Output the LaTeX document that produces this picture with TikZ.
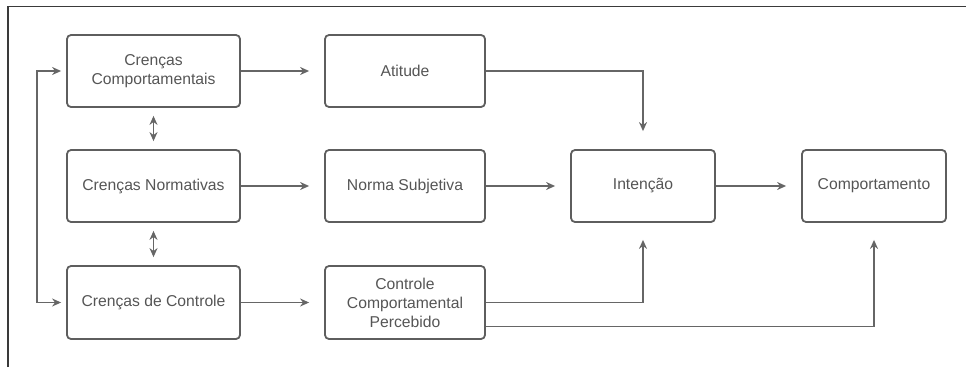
\documentclass[tikz,border=0pt]{standalone}
\usepackage{fontspec}
\setmainfont{Liberation Sans}
\usepackage{xcolor}
\usetikzlibrary{arrows.meta}
\definecolor{boxgray}{HTML}{5E5E5E}
\definecolor{textgray}{HTML}{555555}
\definecolor{linegray}{HTML}{666666}
\definecolor{framegray}{HTML}{3A3A3A}

\begin{document}
\begin{tikzpicture}[x=1pt,y=-1pt,
        bloco/.style={draw=boxgray, line width=1.8pt, rounded corners=4pt, align=center,
            text=textgray, font=\fontsize{15.7}{19}\selectfont, inner sep=0pt},
        largo/.style={bloco, minimum width=173pt},
        medio/.style={bloco, minimum width=160pt},
        curto/.style={bloco, minimum width=144pt},
        ponta/.tip={Stealth[length=9pt, width=8pt]},
        seta/.style={-ponta, draw=linegray, line width=1.3pt, shorten >=15pt},
        dupla/.style={ponta-ponta, draw=linegray, line width=1.3pt, shorten >=8pt, shorten <=8pt}]
        \useasboundingbox (0, 0) rectangle (966, 367);
        \draw[framegray, line width=1.4pt] (8, 367) -- (8, 6.5) -- (966, 6.5);

        \node[largo, minimum height=72pt] (cc) at (153.5, 71) {Crenças\\Comportamentais};
        \node[largo, minimum height=72pt] (cn) at (153.5, 186) {Crenças Normativas};
        \node[largo, minimum height=73pt] (cd) at (153.5, 302.5) {Crenças de Controle};

        \node[medio, minimum height=72pt] (at) at (405, 71) {Atitude};
        \node[medio, minimum height=72pt] (ns) at (405, 186) {Norma Subjetiva};
        \node[medio, minimum height=73pt] (cp) at (405, 302.5) {Controle\\Comportamental\\Percebido};

        \node[curto, minimum height=72pt] (in) at (643, 186) {Intenção};
        \node[curto, minimum height=72pt] (co) at (874, 186) {Comportamento};

        \coordinate (volta) at (37, 71);

        \draw[seta] (cc) -- (at);
        \draw[seta] (cn) -- (ns);
        \draw[seta] (cd) -- (cp);
        \draw[seta] (ns) -- (in);
        \draw[seta] (in) -- (co);

        \draw[seta, shorten >=18pt] (at.east) -| (in.north);
        \draw[seta, shorten >=17pt] (cp.east) -| (in.south);
        \draw[seta, shorten >=17pt] ([yshift=-24pt]cp.east) -| (co.south);

        \draw[dupla] (cc) -- (cn);
        \draw[dupla] (cn) -- (cd);

        \draw[ponta-ponta, draw=linegray, line width=1.3pt, shorten >=5pt, shorten <=5pt]
            (cc.west) -- (volta) |- (cd.west);
    \end{tikzpicture}
\end{document}
